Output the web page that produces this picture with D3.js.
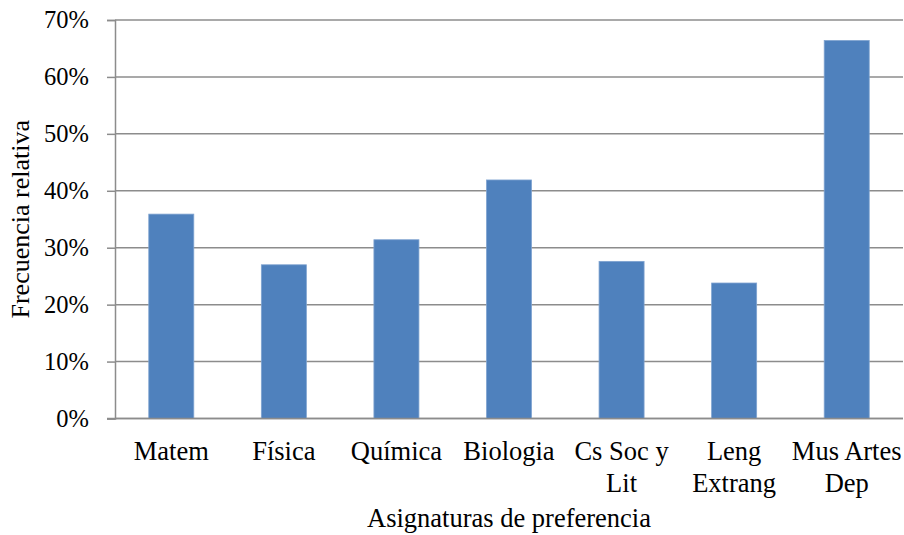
<!DOCTYPE html>
<html>
<head>
<meta charset="utf-8">
<script src="https://cdn.jsdelivr.net/npm/d3@7"></script>
<style>
  body { margin: 0; background: #fff; }
  text { font-family: "Liberation Serif", "Times New Roman", serif; fill: #000; }
</style>
</head>
<body>
<div id="chart"></div>
<script>
// categories and values
const categories = ["Matem", "Física", "Química", "Biologia", "Cs Soc y Lit", "Leng Extrang", "Mus Artes Dep"];
// label lines under each bar
const labelLines = [["Matem"], ["Física"], ["Química"], ["Biologia"], ["Cs Soc y", "Lit"], ["Leng", "Extrang"], ["Mus Artes", "Dep"]];
const values = [0.359, 0.270, 0.314, 0.419, 0.276, 0.238, 0.664];
const yTicks = [0, 0.1, 0.2, 0.3, 0.4, 0.5, 0.6, 0.7];

const width = 904, height = 535;
const margin = {top: 20, right: 1, bottom: 116.5, left: 115};

let svg = d3.select("#chart").append("svg").attr("width", width).attr("height", height);

let x = d3.scaleBand().domain(categories).range([margin.left, width - margin.right]).paddingInner(0.6).paddingOuter(0.3);
let y = d3.scaleLinear().domain([0, 0.7]).range([height - margin.bottom, margin.top]);

// gridlines
svg.append("g").selectAll("line").data(yTicks).join("line")
    .attr("x1", margin.left).attr("x2", width - margin.right)
    .attr("y1", d => y(d)).attr("y2", d => y(d))
    .attr("stroke", "#8c8c8c").attr("stroke-width", 1.5);

// bars
svg.append("g").selectAll("rect").data(values).join("rect")
    .attr("x", (d, i) => x(categories[i]))
    .attr("y", d => y(d))
    .attr("width", x.bandwidth())
    .attr("height", d => y(0) - y(d))
    .attr("fill", "#4f81bd")
    .attr("stroke", "#7fa3d0").attr("stroke-width", 0.8);

// y axis
let yAxis = d3.axisLeft(y).tickValues(yTicks).tickSize(8).tickPadding(18).tickFormat(d3.format(".0%"));
let yg = svg.append("g").attr("transform", `translate(${margin.left},0)`).call(yAxis);
yg.select(".domain").attr("stroke", "#8c8c8c").attr("stroke-width", 1.5);
yg.selectAll(".tick line").attr("stroke", "#8c8c8c").attr("stroke-width", 1.5);
yg.selectAll(".tick text").attr("font-size", "24.5px").attr("fill", "#000");

// x axis line
svg.append("line")
    .attr("x1", margin.left - 8).attr("x2", width - margin.right)
    .attr("y1", y(0)).attr("y2", y(0))
    .attr("stroke", "#8c8c8c").attr("stroke-width", 1.5);

// category labels
let labels = svg.append("g").selectAll("text").data(categories).join("text")
    .attr("x", d => x(d) + x.bandwidth() / 2)
    .attr("y", y(0) + 41)
    .attr("text-anchor", "middle")
    .attr("font-size", "26.5px");
labels.each(function(d, i) {
    d3.select(this).selectAll("tspan").data(labelLines[i]).join("tspan")
        .attr("x", x(d) + x.bandwidth() / 2)
        .attr("dy", (t, j) => j === 0 ? 0 : 32)
        .text(t => t);
});

// axis titles
svg.append("text")
    .attr("x", (margin.left + width - margin.right) / 2).attr("y", 527)
    .attr("text-anchor", "middle").attr("font-size", "26.5px")
    .text("Asignaturas de preferencia");

svg.append("text")
    .attr("transform", `translate(29,${(margin.top + y(0)) / 2}) rotate(-90)`)
    .attr("text-anchor", "middle").attr("font-size", "26px")
    .text("Frecuencia relativa");
</script>
</body>
</html>
